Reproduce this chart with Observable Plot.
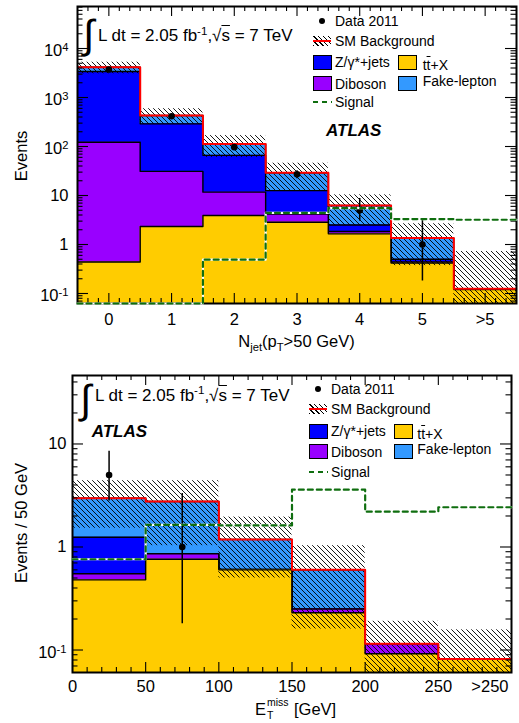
<!DOCTYPE html>
<html>
<head>
<meta charset="utf-8">
<script src="https://cdn.jsdelivr.net/npm/d3@7"></script>
<script src="https://cdn.jsdelivr.net/npm/@observablehq/plot@0.6"></script>
<style>
html,body{margin:0;padding:0;background:#fff;}
#wrap{position:relative;width:519px;height:723px;overflow:hidden;font-family:"Liberation Sans",Arial,Helvetica,sans-serif;}
.panel{position:absolute;left:0;width:519px;}
.t{position:absolute;white-space:nowrap;line-height:1;color:#000;}
.sup{font-size:0.68em;position:relative;top:-0.55em;}
.sub{font-size:0.68em;position:relative;top:0.38em;}
.ol{text-decoration:overline;}
.box{position:absolute;box-sizing:border-box;border:1.5px solid #000;}
.hatch{position:absolute;background:repeating-linear-gradient(45deg,#000 0 0.8px,transparent 0.8px 3.5px);}
.abs{position:absolute;}
</style>
</head>
<body>
<div id="wrap">
  <div id="top" class="panel" style="top:0"></div>
  <div id="bot" class="panel" style="top:363px"></div>
</div>
<script>
const FONT = '"Liberation Sans", Arial, Helvetica, sans-serif';
const COL = {ttbar:"#ffcc00", diboson:"#9900ff", zjets:"#0000ff", fake:"#3399ff", total:"#ff0000", signal:"#0f6e0f"};

// ---------- Top panel: N_jet (pT > 50 GeV) ----------
const njetCenters = [0, 1, 2, 3, 4, 5, 6];
const njetEdges   = [-0.5, 0.5, 1.5, 2.5, 3.5, 4.5, 5.5, 6.5];
const njetLabels  = ["0", "1", "2", "3", "4", "5", ">5"];
const njetTtbar   = [0.44, 2.33, 3.9, 2.85, 1.65, 0.42, 0.12];
const njetDiboson = [121.5, 28.7, 7.8, 1.35, 0.19, 0.02, 0];
const njetZjets   = [3278, 259, 54.3, 8.4, 0.66, 0.06, 0];
const njetFake    = [750, 140, 47, 16.4, 3.75, 0.85, 0.005];
const njetBandLo  = [3050, 280, 60, 12.6, 2.4, 0.37, 0.01];
const njetBandHi  = [5250, 590, 167, 45.6, 10.3, 2.65, 0.72];
const njetSignal  = [0, 0, 0.49, 4.4, 5.5, 3.3, 3.2];
const njetData    = [3730, 415, 97, 27, 5, 1, null];
const njetDataLo  = [3670, 395, 87, 22, 3.0, 0.18, null];
const njetDataHi  = [3790, 435, 107, 32, 8.7, 3.3, null];

// ---------- Bottom panel: E_T^miss ----------
const metCenters  = [25, 75, 125, 175, 225, 275];
const metEdges    = [0, 50, 100, 150, 200, 250, 300];
const metTicks    = [0, 50, 100, 150, 200, 250];
const metLabels   = ["0", "50", "100", "150", "200", "250"];
const metOverflow = ">250";
const metTtbar    = [0.48, 0.76, 0.60, 0.23, 0.092, 0.082];
const metDiboson  = [0.07, 0.10, 0.005, 0.02, 0.023, 0];
const metZjets    = [0.695, 0, 0, 0, 0, 0];
const metFake     = [1.735, 1.90, 0.58, 0.35, 0, 0];
const metBandLo   = [1.52, 1.03, 0.5, 0.16, 0.01, 0.01];
const metBandHi   = [4.4, 4.4, 1.95, 1.03, 0.19, 0.157];
const metSignal   = [0.76, 1.64, 1.62, 3.6, 2.2, 2.43];
const metData     = [5, 1, null, null, null, null];
const metDataLo   = [2.8, 0.18, null, null, null, null];
const metDataHi   = [8.5, 3.3, null, null, null, null];

function cumulate(layers) {
  const out = []; let acc = layers[0].map(() => 0);
  for (const L of layers) { acc = acc.map((a, i) => a + L[i]); out.push(acc); }
  return out;
}
function steps(edges, vals) {
  return edges.map((e, i) => ({x: e, y: vals[Math.min(i, vals.length - 1)]}));
}
function fmtLog(v) {
  const e = Math.round(Math.log10(v));
  return e === 0 ? "1" : e === 1 ? "10" : "10^" + e;
}
function logTicks(dom) {
  const major = [], minor = [];
  for (let e = Math.floor(Math.log10(dom[0])); e <= Math.ceil(Math.log10(dom[1])); e++) {
    for (let m = 1; m <= 9; m++) {
      const v = m * Math.pow(10, e);
      if (v >= dom[0] * 0.9999 && v <= dom[1]) (m === 1 ? major : minor).push(v);
    }
  }
  return {major, minor};
}

function drawPanel(el, c) {
  const iw = c.W - c.m.l - c.m.r, ih = c.H - c.m.t - c.m.b;
  const cums = cumulate(c.layers);
  const total = cums[cums.length - 1];
  const floor = c.yDomain[0] / 1000;
  const marks = [];
  for (let k = cums.length - 1; k >= 0; k--) {
    const pts = steps(c.edges, cums[k]);
    marks.push(Plot.areaY(pts, {x: "x", y1: () => floor, y2: "y", curve: "step-after", fill: c.colors[k], clip: true}));
    marks.push(Plot.line(pts, {x: "x", y: "y", curve: "step-after", stroke: "#000", strokeWidth: 1.4, clip: true}));
  }
  const band = c.centers.map((x, i) => ({x1: c.edges[i], x2: c.edges[i + 1], lo: c.bandLo[i], hi: c.bandHi[i]}));
  marks.push(Plot.rect(band, {x1: "x1", x2: "x2", y1: "lo", y2: "hi", fill: `url(#${c.hatchId})`, clip: true}));
  marks.push(Plot.line(steps(c.edges, total), {x: "x", y: "y", curve: "step-after", stroke: COL.total, strokeWidth: 2, clip: true}));
  const pts = c.centers.map((x, i) => ({x, y: c.data[i], lo: c.dataLo[i], hi: c.dataHi[i]})).filter(d => d.y != null);
  marks.push(Plot.ruleX(pts, {x: "x", y1: "lo", y2: "hi", stroke: "#000", strokeWidth: 1.5, clip: true}));
  marks.push(Plot.dot(pts, {x: "x", y: "y", r: 3.3, fill: "#000", stroke: "none"}));
  // frame ticks (inside, all four sides)
  const yt = logTicks(c.yDomain);
  const tk = {stroke: "#000", strokeWidth: 1.1};
  marks.push(Plot.ruleY(yt.major, {y: d => d, insetRight: iw - 11, ...tk}));
  marks.push(Plot.ruleY(yt.major, {y: d => d, insetLeft: iw - 11, ...tk}));
  marks.push(Plot.ruleY(yt.minor, {y: d => d, insetRight: iw - 5.5, ...tk}));
  marks.push(Plot.ruleY(yt.minor, {y: d => d, insetLeft: iw - 5.5, ...tk}));
  marks.push(Plot.ruleX(c.xMajor, {x: d => d, insetTop: ih - 10, ...tk}));
  marks.push(Plot.ruleX(c.xMajor, {x: d => d, insetBottom: ih - 10, ...tk}));
  marks.push(Plot.ruleX(c.xMinor, {x: d => d, insetTop: ih - 5, ...tk}));
  marks.push(Plot.ruleX(c.xMinor, {x: d => d, insetBottom: ih - 5, ...tk}));
  marks.push(Plot.frame({stroke: "#000", strokeWidth: 2}));
  const sig = steps(c.edges, c.signal.map(v => Math.max(v, c.yDomain[0])));
  marks.push(Plot.line(sig, {x: "x", y: "y", curve: "step-after", stroke: "#fff", strokeWidth: 2.2}));
  marks.push(Plot.line(sig, {x: "x", y: "y", curve: "step-after", stroke: COL.signal, strokeWidth: 2.2, strokeDasharray: "5,4"}));
  marks.push(Plot.axisY(yt.major, {anchor: "left", tickSize: 0, tickPadding: c.yPad, tickFormat: fmtLog, fontSize: 16.5, fontFamily: FONT, label: null}));
  marks.push(Plot.axisX(c.labelTicks, {anchor: "bottom", tickSize: 0, tickPadding: c.xPad, tickFormat: c.xFmt, fontSize: 16.5, fontFamily: FONT, label: null}));
  if (c.extra) marks.push(c.extra);
  const svg = Plot.plot({
    width: c.W, height: c.H,
    marginTop: c.m.t, marginRight: c.m.r, marginBottom: c.m.b, marginLeft: c.m.l,
    x: {domain: c.xDomain, label: null},
    y: {type: "log", domain: c.yDomain, label: null},
    style: {fontFamily: FONT, background: "white", overflow: "visible"},
    marks
  });
  const ns = "http://www.w3.org/2000/svg";
  const defs = document.createElementNS(ns, "defs");
  defs.innerHTML = `<pattern id="${c.hatchId}" patternUnits="userSpaceOnUse" width="5" height="5"><path d="M0,0L5,5M-1,4L1,6M4,-1L6,1" stroke="#000" stroke-width="0.9"/></pattern>`;
  svg.insertBefore(defs, svg.firstChild);
  svg.querySelectorAll('g[aria-label="y-axis tick label"] text').forEach(t => {
    const s = t.textContent;
    if (s.includes("^")) {
      const [b, e] = s.split("^");
      t.textContent = b;
      const ts = document.createElementNS(ns, "tspan");
      ts.setAttribute("dy", "-0.45em");
      ts.setAttribute("font-size", "0.68em");
      ts.textContent = e;
      t.appendChild(ts);
      t.setAttribute("transform", (t.getAttribute("transform") || "") + " translate(0,2.5)");
    }
  });
  svg.style.display = "block";
  el.appendChild(svg);
}

const njetMinor = d3.range(-2, 39).filter(n => n % 6 !== 0).map(n => n / 6);
drawPanel(document.getElementById("top"), {
  W: 519, H: 363, m: {t: 6, r: 3, b: 60, l: 77},
  xDomain: [-0.5, 6.5], yDomain: [0.0625, 72000],
  edges: njetEdges, centers: njetCenters,
  layers: [njetTtbar, njetDiboson, njetZjets, njetFake],
  colors: [COL.ttbar, COL.diboson, COL.zjets, COL.fake],
  bandLo: njetBandLo, bandHi: njetBandHi, signal: njetSignal,
  data: njetData, dataLo: njetDataLo, dataHi: njetDataHi,
  xMajor: njetCenters, xMinor: njetMinor, labelTicks: njetCenters,
  xFmt: d => njetLabels[njetCenters.indexOf(d)],
  yPad: 9, xPad: 10, hatchId: "hatchTop"
});

const metMinor = d3.range(10, 300, 10).filter(v => v % 50 !== 0);
drawPanel(document.getElementById("bot"), {
  W: 519, H: 360, m: {t: 12, r: 8, b: 51, l: 72},
  xDomain: [0, 300], yDomain: [0.0605, 46.2],
  edges: metEdges, centers: metCenters,
  layers: [metTtbar, metDiboson, metZjets, metFake],
  colors: [COL.ttbar, COL.diboson, COL.zjets, COL.fake],
  bandLo: metBandLo, bandHi: metBandHi, signal: metSignal,
  data: metData, dataLo: metDataLo, dataHi: metDataHi,
  xMajor: metEdges, xMinor: metMinor, labelTicks: metTicks,
  xFmt: d => metLabels[metTicks.indexOf(d)],
  yPad: 6, xPad: 8, hatchId: "hatchBot",
  extra: Plot.text([metOverflow], {x: () => 300, text: d => d, frameAnchor: "bottom", dy: 8, dx: -3, lineAnchor: "top", textAnchor: "end", fontSize: 16.5, fontFamily: FONT})
});

// ---------- overlays: titles, annotations, legends ----------
const wrap = document.getElementById("wrap");
function txt(html, left, baseline, size, style = "") {
  const d = document.createElement("div");
  d.className = "t"; d.innerHTML = html;
  d.style.cssText = `left:${left}px;top:${baseline - 0.8465 * size}px;font-size:${size}px;${style}`;
  wrap.appendChild(d); return d;
}
function vtxt(html, cx, cy, size) {
  const d = document.createElement("div");
  d.className = "t"; d.innerHTML = html;
  d.style.cssText = `left:${cx}px;top:${cy}px;font-size:${size}px;transform:translate(-50%,-50%) rotate(-90deg);`;
  wrap.appendChild(d);
}
function div(cls, l, t, w, h, style = "") {
  const d = document.createElement("div");
  d.className = cls;
  d.style.cssText = `left:${l}px;top:${t}px;width:${w}px;height:${h}px;${style}`;
  wrap.appendChild(d); return d;
}
function legend(o) {
  const fs = 14;
  div("abs", o.c1 + 9 - 3.3, o.rows[0] - 3.3, 6.6, 6.6, "background:#000;border-radius:50%");
  txt("Data 2011", o.t1, o.rows[0] + 5, fs);
  div("hatch", o.c1, o.rows[1] - 5, 18, 10);
  div("abs", o.c1, o.rows[1] - 1, 18, 1.8, "background:#ff0000");
  txt("SM Background", o.t1, o.rows[1] + 5, fs);
  div("box", o.c1, o.rows[2] - 7.5, 19, 15, `background:${COL.zjets}`);
  txt("Z/γ*+jets", o.t1, o.rows[2] + 4.5, fs);
  div("box", o.c2, o.rows[2] - 7.5, 19, 15, `background:${COL.ttbar}`);
  txt('t<span class="ol">t</span>+X', o.t2, o.rows[2] + 7.5, fs);
  div("box", o.c1, o.rows[3] - 7.5, 19, 15, `background:${COL.diboson}`);
  txt("Diboson", o.t1, o.rows[3] + 5.5, fs);
  div("box", o.c2, o.rows[3] - 7.5, 19, 15, `background:${COL.fake}`);
  txt("Fake-lepton", o.t2, o.rows[3] + 3, fs);
  const s = div("abs", o.c1, o.rows[4] - 2, 19, 4);
  s.innerHTML = `<svg width="19" height="4" style="display:block"><line x1="0" x2="19" y1="2" y2="2" stroke="${COL.signal}" stroke-width="2" stroke-dasharray="5,4"/></svg>`;
  txt("Signal", o.t1, o.rows[4] + 5, fs);
}

// top panel texts
txt("∫", 83, 48, 40);
txt('L dt = 2.05 fb<span class="sup">-1</span>,√<span class="ol">s</span> = 7 TeV', 98, 41.7, 17);
txt("ATLAS", 326, 136.7, 17, "font-weight:bold;font-style:italic");
vtxt("Events", 21, 156, 16.5);
txt('N<span class="sub">jet</span>(p<span class="sub">T</span>&gt;50 GeV)', 238.3, 346.7, 16.5);
legend({c1: 313, t1: 335, c2: 398, t2: 422.7, rows: [21, 41, 62.5, 83, 102]});

// bottom panel texts
txt("∫", 80, 413, 40);
txt('L dt = 2.05 fb<span class="sup">-1</span>,√<span class="ol">s</span> = 7 TeV', 95, 401, 17);
txt("ATLAS", 91.7, 437.7, 17, "font-weight:bold;font-style:italic");
vtxt("Events / 50 GeV", 21, 523, 16.5);
txt("E", 255, 715, 16.5);
txt("miss", 267, 705.5, 10.5);
txt("T", 267, 718.5, 10.5);
txt("[GeV]", 294, 715, 16.5);
legend({c1: 309, t1: 331, c2: 394.3, t2: 417.3, rows: [389, 409, 431, 451, 472]});
</script>
</body>
</html>
